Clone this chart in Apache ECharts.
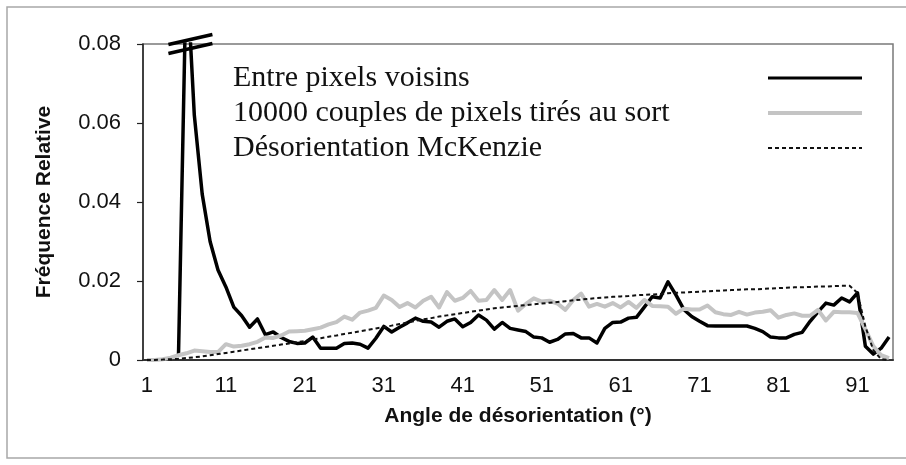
<!DOCTYPE html>
<html>
<head>
<meta charset="utf-8">
<script src="https://cdn.jsdelivr.net/npm/echarts@6/dist/echarts.min.js"></script>
<style>
  html, body { margin: 0; padding: 0; background: #fff; }
  #chart { width: 906px; height: 465px; }
</style>
</head>
<body>
<div id="chart"></div>
<script>
// Misorientation angle classes (degrees)
const angles = [
  1, 2, 3, 4, 5, 6, 7, 8, 9, 10, 11, 12, 13, 14, 15, 16, 17, 18, 19, 20,
  21, 22, 23, 24, 25, 26, 27, 28, 29, 30, 31, 32, 33, 34, 35, 36, 37, 38, 39, 40,
  41, 42, 43, 44, 45, 46, 47, 48, 49, 50, 51, 52, 53, 54, 55, 56, 57, 58, 59, 60,
  61, 62, 63, 64, 65, 66, 67, 68, 69, 70, 71, 72, 73, 74, 75, 76, 77, 78, 79, 80,
  81, 82, 83, 84, 85, 86, 87, 88, 89, 90, 91, 92, 93, 94, 95
];

// Neighbouring pixels (peak at 6° runs off the top of the axis)
const voisins = [
  null, null, null, null, 0.0015, 0.1, 0.062, 0.042, 0.030, 0.0228,
  0.0185, 0.0134, 0.0112, 0.0083, 0.0104, 0.0064, 0.0071, 0.0057, 0.0047, 0.0042,
  0.0043, 0.0058, 0.0030, 0.0030, 0.0030, 0.0042, 0.0043, 0.0040, 0.0030, 0.0055,
  0.0085, 0.0071, 0.0083, 0.0094, 0.0106, 0.0098, 0.0096, 0.0083, 0.0098, 0.0104,
  0.0084, 0.0095, 0.0114, 0.0101, 0.0078, 0.0095, 0.0080, 0.0076, 0.0072, 0.0058,
  0.0056, 0.0045, 0.0052, 0.0066, 0.0067, 0.0056, 0.0056, 0.0043, 0.0080, 0.0095,
  0.0096, 0.0106, 0.0108, 0.0134, 0.0160, 0.0157, 0.0198, 0.0165, 0.0128, 0.0110,
  0.0098, 0.0087, 0.0086, 0.0086, 0.0086, 0.0086, 0.0086, 0.0080, 0.0072, 0.0058,
  0.0056, 0.0056, 0.0065, 0.0070, 0.0098, 0.0122, 0.0144, 0.0139, 0.0157, 0.0147,
  0.0170, 0.0035, 0.0015, 0.0030, 0.0058
];

// 10000 randomly drawn pixel pairs
const tirage = [
  0, 0, 0.0002, 0.0006, 0.0012, 0.0017, 0.0024, 0.0022, 0.0020, 0.0020,
  0.0040, 0.0034, 0.0036, 0.0040, 0.0046, 0.0057, 0.0056, 0.0062, 0.0072, 0.0073,
  0.0074, 0.0078, 0.0082, 0.0090, 0.0096, 0.0110, 0.0102, 0.0120, 0.0125, 0.0132,
  0.0163, 0.0152, 0.0134, 0.0144, 0.0133, 0.0150, 0.0160, 0.0133, 0.0172, 0.0150,
  0.0157, 0.0175, 0.0150, 0.0152, 0.0177, 0.0152, 0.0177, 0.0125, 0.0142, 0.0156,
  0.0148, 0.0150, 0.0143, 0.0127, 0.0152, 0.0168, 0.0135, 0.0142, 0.0135, 0.0144,
  0.0133, 0.0147, 0.0132, 0.0152, 0.0137, 0.0136, 0.0135, 0.0117, 0.0130, 0.0128,
  0.0128, 0.0138, 0.0121, 0.0116, 0.0114, 0.0122, 0.0115, 0.0120, 0.0122, 0.0126,
  0.0107, 0.0114, 0.0118, 0.0112, 0.0112, 0.0127, 0.0100, 0.0122, 0.0121, 0.0121,
  0.0119, 0.0078, 0.0035, 0.0012, 0.0005
];

// Mackenzie misorientation distribution
const mckenzie = [
  0, 0.00003, 0.0001, 0.0002, 0.0003, 0.0005, 0.0007, 0.0009, 0.0012, 0.0015,
  0.0018, 0.0021, 0.0024, 0.0027, 0.0030, 0.0033, 0.0036, 0.0039, 0.0042, 0.0045,
  0.0048, 0.0052, 0.0055, 0.0059, 0.0062, 0.0066, 0.0069, 0.0073, 0.0076, 0.0080,
  0.0083, 0.0087, 0.0091, 0.0095, 0.0099, 0.0103, 0.0106, 0.0110, 0.0113, 0.0116,
  0.0119, 0.0122, 0.0125, 0.0128, 0.0131, 0.0133, 0.0135, 0.0137, 0.0139, 0.0141,
  0.0143, 0.0145, 0.0147, 0.0149, 0.0151, 0.0153, 0.0155, 0.0157, 0.0158, 0.0160,
  0.0161, 0.0162, 0.0164, 0.0165, 0.0166, 0.0167, 0.0169, 0.0170, 0.0171, 0.0172,
  0.0173, 0.0174, 0.0175, 0.0176, 0.0177, 0.0178, 0.0179, 0.0179, 0.0180, 0.0181,
  0.0182, 0.0183, 0.0184, 0.0184, 0.0185, 0.0186, 0.0186, 0.0187, 0.0188, 0.0188,
  0.0170, 0.0085, 0.0025, 0.0002, 0
];

const seriesNames = [
  'Entre pixels voisins',
  '10000 couples de pixels tirés au sort',
  'Désorientation McKenzie'
];

const yMin = 0;
const yMax = 0.08;
const yStep = 0.02;

const sans = 'Liberation Sans, Arial, sans-serif';
const serif = 'Liberation Serif, Times New Roman, serif';

// index of the clipped peak, where the axis-break marks go
const peakValue = Math.max(...voisins.filter(v => v != null));
const peakIdx = voisins.indexOf(peakValue);

const chart = echarts.init(document.getElementById('chart'), null, { renderer: 'canvas' });

// legend entries: line sample only, no marker dot
const legendItem = (name, width) => ({
  name: name,
  lineStyle: { width: width },
  itemStyle: { opacity: 0 }
});

chart.setOption({
  animation: false,
  backgroundColor: '#fff',
  graphic: [{
    type: 'rect',
    shape: { x: 7, y: 7, width: 910, height: 451 },
    style: { fill: 'none', stroke: '#a8a8a8', lineWidth: 1.5 },
    silent: true,
    z: -10
  }],
  grid: {
    left: 143, right: 13, top: 44, bottom: 105,
    show: true, borderColor: '#7a7a7a', borderWidth: 1.5,
    containLabel: false
  },
  legend: {
    orient: 'vertical',
    left: 233, top: 63,
    padding: 0,
    align: 'right',
    itemWidth: 94, itemHeight: 20, itemGap: 5,
    formatter: name => '{t|' + name + '}',
    textStyle: {
      fontFamily: serif, fontSize: 30, color: '#111',
      rich: { t: { width: 530, align: 'left', fontFamily: serif, fontSize: 30, lineHeight: 30, color: '#111' } }
    },
    data: [
      legendItem(seriesNames[0], 3),
      legendItem(seriesNames[1], 4),
      legendItem(seriesNames[2], 2)
    ]
  },
  xAxis: {
    type: 'category',
    data: angles,
    boundaryGap: true,
    name: 'Angle de désorientation (°)',
    nameLocation: 'middle',
    nameGap: 46,
    nameTextStyle: { fontFamily: sans, fontSize: 21, fontWeight: 'bold', color: '#111' },
    axisLine: { lineStyle: { color: '#333', width: 2 } },
    axisTick: { show: false },
    axisLabel: { interval: 9, margin: 15, fontFamily: sans, fontSize: 22, color: '#111' },
    splitLine: { show: false }
  },
  yAxis: {
    type: 'value',
    min: yMin, max: yMax, interval: yStep,
    name: 'Fréquence Relative',
    nameLocation: 'middle',
    nameGap: 88,
    nameTextStyle: { fontFamily: sans, fontSize: 21, fontWeight: 'bold', color: '#111' },
    axisLine: { show: true, lineStyle: { color: '#222', width: 1.5 } },
    axisTick: { show: true, inside: false, length: 6, lineStyle: { color: '#222', width: 1.2 } },
    axisLabel: { margin: 22, fontFamily: sans, fontSize: 22, color: '#111' },
    splitLine: { show: false }
  },
  series: [
    {
      name: seriesNames[0],
      type: 'line',
      data: voisins,
      symbol: 'none',
      clip: true,
      lineStyle: { color: '#000', width: 3.5, join: 'round' },
      itemStyle: { color: '#000' },
      z: 2
    },
    {
      name: seriesNames[1],
      type: 'line',
      data: tirage,
      symbol: 'none',
      lineStyle: { color: '#c4c4c4', width: 4, join: 'round' },
      itemStyle: { color: '#c4c4c4' },
      z: 3
    },
    {
      name: seriesNames[2],
      type: 'line',
      data: mckenzie,
      symbol: 'none',
      lineStyle: { color: '#111', width: 2, type: [4, 3] },
      itemStyle: { color: '#111' },
      z: 4
    },
    {
      name: 'axis break',
      type: 'custom',
      silent: true,
      clip: false,
      z: 6,
      data: [[peakIdx, yMax]],
      renderItem: function (params, api) {
        const p = api.coord([api.value(0), api.value(1)]);
        const marks = [-4.5, 4.5].map(function (dy) {
          const cx = p[0] + 4, cy = p[1] + dy;
          return {
            type: 'line',
            shape: { x1: cx - 22, y1: cy + 5, x2: cx + 22, y2: cy - 5 },
            style: { stroke: '#000', lineWidth: 3.5 }
          };
        });
        return { type: 'group', children: marks };
      }
    }
  ]
});
</script>
</body>
</html>
